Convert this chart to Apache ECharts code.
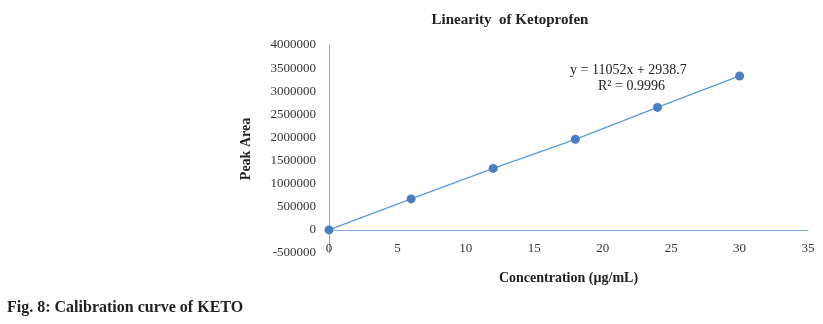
<!DOCTYPE html>
<html><head><meta charset="utf-8">
<script src="https://cdn.jsdelivr.net/npm/echarts@6/dist/echarts.min.js"></script>
<style>html,body{margin:0;padding:0;background:#fff}#c{width:823px;height:324px}</style>
</head><body><div id="c"></div>
<script>
const concentrations = [0, 6, 12, 18, 24, 30];
const peakAreas = [0, 670000, 1330000, 1960000, 2650000, 3330000];
const xTicks = [0, 5, 10, 15, 20, 25, 30, 35];
const yTicks = [-500000, 0, 500000, 1000000, 1500000, 2000000, 2500000, 3000000, 3500000, 4000000];
const equationLines = ['y = 11052x + 2938.7', 'R² = 0.9996'];

const serif = '"Liberation Serif", "DejaVu Serif", serif';
const chart = echarts.init(document.getElementById('c'), null, {renderer: 'canvas'});
chart.setOption({
  animation: false,
  title: {
    text: 'Linearity  of Ketoprofen', left: 505, top: 8, textAlign: 'center',
    textStyle: {fontFamily: serif, fontWeight: 'bold', fontSize: 15, color: '#222'}
  },
  grid: {left: 329, right: 15, top: 45, bottom: 71, containLabel: false},
  xAxis: {
    type: 'value', min: xTicks[0], max: xTicks[xTicks.length - 1], interval: 5,
    name: 'Concentration (µg/mL)', nameLocation: 'middle', nameGap: 18,
    nameTextStyle: {fontFamily: serif, fontWeight: 'bold', fontSize: 14, color: '#222'},
    axisLine: {onZero: true, lineStyle: {color: '#7fa9de', width: 1}},
    axisTick: {show: false},
    splitLine: {show: false},
    axisLabel: {fontFamily: serif, fontSize: 13, color: '#333', margin: -11,
      formatter: v => String(v)}
  },
  yAxis: {
    type: 'value', min: yTicks[0], max: yTicks[yTicks.length - 1], interval: 500000,
    name: 'Peak Area', nameLocation: 'middle', nameGap: 76, nameRotate: 90,
    nameTextStyle: {fontFamily: serif, fontWeight: 'bold', fontSize: 14, color: '#222'},
    axisLine: {show: true, onZero: true, lineStyle: {color: '#7fa9de', width: 1}},
    axisTick: {show: false},
    splitLine: {show: false},
    axisLabel: {fontFamily: serif, fontSize: 13, color: '#333', margin: 13,
      formatter: v => String(v)}
  },
  graphic: [{
    type: 'text', left: 570, top: 63,
    style: {text: equationLines[0], font: '14px ' + serif, fill: '#222'}
  }, {
    type: 'text', left: 598, top: 79,
    style: {text: equationLines[1], font: '14px ' + serif, fill: '#222'}
  }],
  series: [{
    type: 'line',
    data: concentrations.map((x, i) => [x, peakAreas[i]]),
    symbol: 'circle', symbolSize: 9,
    itemStyle: {color: '#4a7ec2'},
    lineStyle: {color: '#5b9bd5', width: 1.3}
  }]
});
</script>
<div style="position:absolute;left:7px;top:298px;font:bold 16px 'Liberation Serif', serif;color:#222">Fig. 8: Calibration curve of KETO</div>
</body></html>
